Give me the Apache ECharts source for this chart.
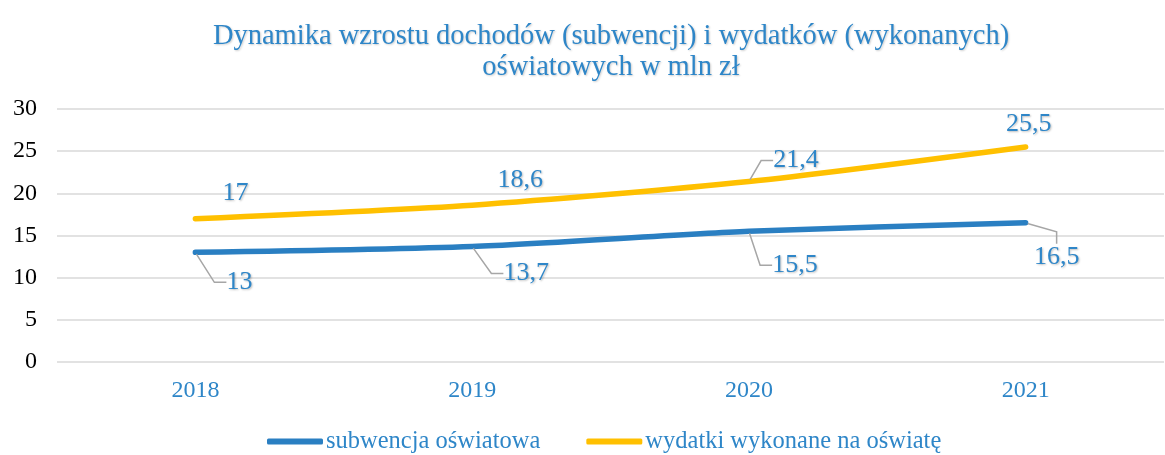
<!DOCTYPE html>
<html>
<head>
<meta charset="utf-8">
<script src="https://cdn.jsdelivr.net/npm/echarts@6/dist/echarts.min.js"></script>
<style>
  html, body { margin: 0; padding: 0; background: #fff; }
  #main { width: 1165px; height: 455px; }
</style>
</head>
<body>
<div id="main"></div>
<script>
var years = ['2018', '2019', '2020', '2021'];
var subwencja = [13, 13.7, 15.5, 16.5];
var wydatki = [17, 18.6, 21.4, 25.5];
var names = ['subwencja oświatowa', 'wydatki wykonane na oświatę'];

var font = '"Liberation Serif", "Times New Roman", serif';
var blueTxt = '#2E86C8';

// przesunięcia etykiet (Excel-owe położenie)
var offBlue = [[44, 30], [54, 27], [46, 34], [31, 34]];
var offYellow = [[40, -25], [48, -25], [47, -21], [3, -23]];
var lineBlue = [true, true, true, true];
var lineYellow = [false, false, true, false];

function mkData(vals, lines) {
    var out = [];
    for (var i = 0; i < vals.length; i++) {
        out.push({ value: vals[i], labelLine: { show: lines[i] } });
    }
    return out;
}

var labelStyle = {
    show: true,
    position: 'inside',
    color: blueTxt,
    fontFamily: font,
    fontSize: 26,
    padding: [0, 5],
    textShadowColor: 'rgba(0,0,0,0.25)',
    textShadowBlur: 2,
    textShadowOffsetX: 1,
    textShadowOffsetY: 1,
    formatter: function (p) { return String(p.value).replace('.', ','); }
};
var guide = { show: true, length2: 12, lineStyle: { color: '#a6a6a6', width: 1.5 } };

var myChart = echarts.init(document.getElementById('main'));
myChart.setOption({
    animation: false,
    title: {
        text: 'Dynamika wzrostu dochodów (subwencji) i wydatków (wykonanych)\noświatowych w mln zł',
        left: 606,
        textAlign: 'center',
        top: 16,
        textStyle: {
            color: '#2E86C8',
            fontFamily: font,
            fontWeight: 'normal',
            fontSize: 28.5,
            lineHeight: 31,
            textShadowColor: 'rgba(0,0,0,0.2)',
            textShadowBlur: 2,
            textShadowOffsetX: 1,
            textShadowOffsetY: 1
        }
    },
    legend: {
        bottom: -4,
        left: 262,
        itemWidth: 56,
        itemHeight: 6,
        itemGap: 46,
        icon: 'roundRect',
        textStyle: { color: blueTxt, fontFamily: font, fontSize: 24.5, padding: [0, 0, 0, -2] },
        data: names
    },
    grid: { left: 57, right: 1, top: 109, bottom: 93, containLabel: false },
    xAxis: {
        type: 'category',
        data: years,
        boundaryGap: true,
        axisLine: { show: false },
        axisTick: { show: false },
        axisLabel: { color: blueTxt, fontFamily: font, fontSize: 24, margin: 17 }
    },
    yAxis: {
        type: 'value',
        min: 0,
        max: 30,
        interval: 5,
        axisLine: { show: false },
        axisTick: { show: false },
        axisLabel: { color: '#000', fontFamily: font, fontSize: 24, margin: 20 },
        splitLine: { lineStyle: { color: '#d9d9d9', width: 1.5 } }
    },
    series: [
        {
            name: names[0],
            type: 'line',
            data: mkData(subwencja, lineBlue),
            smooth: 0.25,
            symbol: 'circle',
            symbolSize: 4,
            itemStyle: { color: '#2A7FC2' },
            lineStyle: { width: 5.5, color: '#2A7FC2', cap: 'round' },
            label: labelStyle,
            labelLine: guide,
            labelLayout: function (p) {
                return { dx: offBlue[p.dataIndex][0], dy: offBlue[p.dataIndex][1] };
            }
        },
        {
            name: names[1],
            type: 'line',
            data: mkData(wydatki, lineYellow),
            smooth: 0.25,
            symbol: 'circle',
            symbolSize: 4,
            itemStyle: { color: '#FFC000' },
            lineStyle: { width: 5.5, color: '#FFC000', cap: 'round' },
            label: labelStyle,
            labelLine: guide,
            labelLayout: function (p) {
                return { dx: offYellow[p.dataIndex][0], dy: offYellow[p.dataIndex][1] };
            }
        }
    ]
});
</script>
</body>
</html>
